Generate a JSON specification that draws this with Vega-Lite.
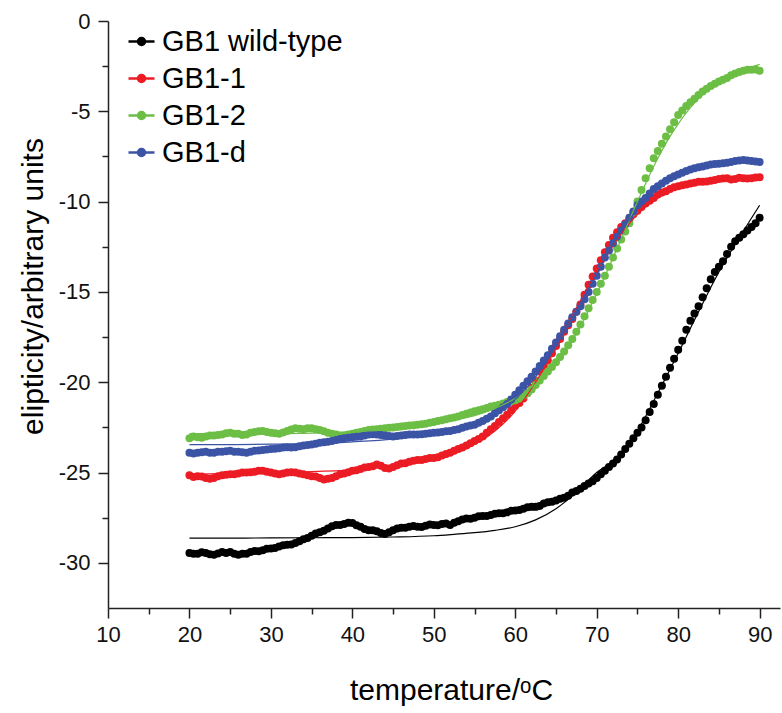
{
  "$schema": "https://vega.github.io/schema/vega-lite/v6.json",
  "width": 672,
  "height": 587,
  "autosize": {"type": "none"},
  "padding": {"left": 108, "top": 21, "right": 2, "bottom": 105},
  "background": "white",
  "config": {"view": {"stroke": null}, "font": "Liberation Sans"},
  "datasets": {
    "points": [
      {"t":20,"wt":-29.45,"g1":-25.15,"g2":-23.1,"gd":-23.9},
      {"t":20.5,"wt":-29.5,"g1":-25.25,"g2":-23.0,"gd":-23.95},
      {"t":21,"wt":-29.5,"g1":-25.2,"g2":-23.05,"gd":-23.9},
      {"t":21.5,"wt":-29.42,"g1":-25.22,"g2":-23.08,"gd":-23.88},
      {"t":22,"wt":-29.45,"g1":-25.3,"g2":-23.0,"gd":-23.85},
      {"t":22.5,"wt":-29.52,"g1":-25.35,"g2":-22.95,"gd":-23.9},
      {"t":23,"wt":-29.55,"g1":-25.3,"g2":-22.95,"gd":-23.9},
      {"t":23.5,"wt":-29.48,"g1":-25.2,"g2":-22.92,"gd":-23.85},
      {"t":24,"wt":-29.4,"g1":-25.15,"g2":-22.9,"gd":-23.85},
      {"t":24.5,"wt":-29.45,"g1":-25.12,"g2":-22.82,"gd":-23.82},
      {"t":25,"wt":-29.4,"g1":-25.1,"g2":-22.8,"gd":-23.8},
      {"t":25.5,"wt":-29.5,"g1":-25.1,"g2":-22.85,"gd":-23.85},
      {"t":26,"wt":-29.55,"g1":-25.05,"g2":-22.85,"gd":-23.85},
      {"t":26.5,"wt":-29.5,"g1":-25.0,"g2":-22.92,"gd":-23.88},
      {"t":27,"wt":-29.5,"g1":-25.0,"g2":-22.9,"gd":-23.9},
      {"t":27.5,"wt":-29.4,"g1":-24.98,"g2":-22.8,"gd":-23.85},
      {"t":28,"wt":-29.35,"g1":-24.95,"g2":-22.75,"gd":-23.8},
      {"t":28.5,"wt":-29.36,"g1":-24.9,"g2":-22.72,"gd":-23.78},
      {"t":29,"wt":-29.3,"g1":-24.9,"g2":-22.7,"gd":-23.75},
      {"t":29.5,"wt":-29.22,"g1":-24.95,"g2":-22.75,"gd":-23.72},
      {"t":30,"wt":-29.2,"g1":-25.0,"g2":-22.8,"gd":-23.7},
      {"t":30.5,"wt":-29.18,"g1":-25.05,"g2":-22.82,"gd":-23.68},
      {"t":31,"wt":-29.1,"g1":-25.1,"g2":-22.85,"gd":-23.65},
      {"t":31.5,"wt":-29.02,"g1":-25.05,"g2":-22.78,"gd":-23.62},
      {"t":32,"wt":-29.0,"g1":-25.0,"g2":-22.7,"gd":-23.6},
      {"t":32.5,"wt":-28.98,"g1":-24.98,"g2":-22.62,"gd":-23.62},
      {"t":33,"wt":-28.9,"g1":-25.0,"g2":-22.55,"gd":-23.6},
      {"t":33.5,"wt":-28.8,"g1":-25.05,"g2":-22.58,"gd":-23.55},
      {"t":34,"wt":-28.7,"g1":-25.1,"g2":-22.6,"gd":-23.5},
      {"t":34.5,"wt":-28.62,"g1":-25.15,"g2":-22.55,"gd":-23.48},
      {"t":35,"wt":-28.5,"g1":-25.2,"g2":-22.55,"gd":-23.45},
      {"t":35.5,"wt":-28.38,"g1":-25.22,"g2":-22.6,"gd":-23.4},
      {"t":36,"wt":-28.3,"g1":-25.3,"g2":-22.65,"gd":-23.35},
      {"t":36.5,"wt":-28.22,"g1":-25.38,"g2":-22.72,"gd":-23.32},
      {"t":37,"wt":-28.1,"g1":-25.35,"g2":-22.8,"gd":-23.3},
      {"t":37.5,"wt":-27.98,"g1":-25.3,"g2":-22.85,"gd":-23.25},
      {"t":38,"wt":-27.9,"g1":-25.2,"g2":-22.9,"gd":-23.2},
      {"t":38.5,"wt":-27.9,"g1":-25.1,"g2":-22.95,"gd":-23.15},
      {"t":39,"wt":-27.85,"g1":-25.05,"g2":-22.95,"gd":-23.1},
      {"t":39.5,"wt":-27.78,"g1":-24.98,"g2":-22.9,"gd":-23.08},
      {"t":40,"wt":-27.8,"g1":-24.9,"g2":-22.85,"gd":-23.05},
      {"t":40.5,"wt":-27.92,"g1":-24.88,"g2":-22.8,"gd":-23.02},
      {"t":41,"wt":-28.0,"g1":-24.8,"g2":-22.75,"gd":-23.0},
      {"t":41.5,"wt":-28.12,"g1":-24.72,"g2":-22.7,"gd":-22.95},
      {"t":42,"wt":-28.2,"g1":-24.7,"g2":-22.65,"gd":-22.9},
      {"t":42.5,"wt":-28.2,"g1":-24.65,"g2":-22.62,"gd":-22.88},
      {"t":43,"wt":-28.25,"g1":-24.55,"g2":-22.6,"gd":-22.9},
      {"t":43.5,"wt":-28.35,"g1":-24.62,"g2":-22.58,"gd":-22.92},
      {"t":44,"wt":-28.4,"g1":-24.75,"g2":-22.55,"gd":-22.95},
      {"t":44.5,"wt":-28.3,"g1":-24.78,"g2":-22.52,"gd":-22.98},
      {"t":45,"wt":-28.2,"g1":-24.7,"g2":-22.5,"gd":-23.0},
      {"t":45.5,"wt":-28.1,"g1":-24.6,"g2":-22.48,"gd":-22.98},
      {"t":46,"wt":-28.05,"g1":-24.5,"g2":-22.45,"gd":-22.95},
      {"t":46.5,"wt":-28.05,"g1":-24.48,"g2":-22.42,"gd":-22.92},
      {"t":47,"wt":-28.0,"g1":-24.4,"g2":-22.4,"gd":-22.9},
      {"t":47.5,"wt":-27.96,"g1":-24.35,"g2":-22.38,"gd":-22.9},
      {"t":48,"wt":-28.0,"g1":-24.3,"g2":-22.35,"gd":-22.9},
      {"t":48.5,"wt":-28.02,"g1":-24.3,"g2":-22.32,"gd":-22.88},
      {"t":49,"wt":-27.95,"g1":-24.25,"g2":-22.3,"gd":-22.85},
      {"t":49.5,"wt":-27.88,"g1":-24.2,"g2":-22.25,"gd":-22.82},
      {"t":50,"wt":-27.9,"g1":-24.2,"g2":-22.2,"gd":-22.8},
      {"t":50.5,"wt":-27.92,"g1":-24.15,"g2":-22.15,"gd":-22.78},
      {"t":51,"wt":-27.85,"g1":-24.05,"g2":-22.1,"gd":-22.75},
      {"t":51.5,"wt":-27.82,"g1":-23.98,"g2":-22.05,"gd":-22.72},
      {"t":52,"wt":-27.9,"g1":-23.9,"g2":-22.0,"gd":-22.7},
      {"t":52.5,"wt":-27.78,"g1":-23.8,"g2":-21.95,"gd":-22.65},
      {"t":53,"wt":-27.7,"g1":-23.7,"g2":-21.9,"gd":-22.6},
      {"t":53.5,"wt":-27.6,"g1":-23.62,"g2":-21.82,"gd":-22.52},
      {"t":54,"wt":-27.55,"g1":-23.5,"g2":-21.75,"gd":-22.45},
      {"t":54.5,"wt":-27.56,"g1":-23.38,"g2":-21.68,"gd":-22.4},
      {"t":55,"wt":-27.5,"g1":-23.25,"g2":-21.6,"gd":-22.35},
      {"t":55.5,"wt":-27.42,"g1":-23.15,"g2":-21.55,"gd":-22.25},
      {"t":56,"wt":-27.4,"g1":-23.0,"g2":-21.5,"gd":-22.15},
      {"t":56.5,"wt":-27.4,"g1":-22.8,"g2":-21.42,"gd":-22.02},
      {"t":57,"wt":-27.35,"g1":-22.6,"g2":-21.35,"gd":-21.9},
      {"t":57.5,"wt":-27.28,"g1":-22.42,"g2":-21.3,"gd":-21.72},
      {"t":58,"wt":-27.25,"g1":-22.2,"g2":-21.25,"gd":-21.55},
      {"t":58.5,"wt":-27.25,"g1":-22.0,"g2":-21.18,"gd":-21.38},
      {"t":59,"wt":-27.2,"g1":-21.8,"g2":-21.1,"gd":-21.2},
      {"t":59.5,"wt":-27.12,"g1":-21.55,"g2":-21.05,"gd":-20.95},
      {"t":60,"wt":-27.1,"g1":-21.3,"g2":-21.0,"gd":-20.7},
      {"t":60.5,"wt":-27.08,"g1":-21.15,"g2":-20.9,"gd":-20.45},
      {"t":61,"wt":-27.0,"g1":-20.9,"g2":-20.75,"gd":-20.2},
      {"t":61.5,"wt":-26.92,"g1":-20.6,"g2":-20.6,"gd":-19.95},
      {"t":62,"wt":-26.9,"g1":-20.3,"g2":-20.4,"gd":-19.7},
      {"t":62.5,"wt":-26.9,"g1":-19.9,"g2":-20.15,"gd":-19.4},
      {"t":63,"wt":-26.85,"g1":-19.4,"g2":-19.9,"gd":-19.1},
      {"t":63.5,"wt":-26.72,"g1":-19.1,"g2":-19.65,"gd":-18.8},
      {"t":64,"wt":-26.65,"g1":-18.8,"g2":-19.4,"gd":-18.5},
      {"t":64.5,"wt":-26.62,"g1":-18.4,"g2":-19.15,"gd":-18.15},
      {"t":65,"wt":-26.55,"g1":-18.0,"g2":-18.9,"gd":-17.8},
      {"t":65.5,"wt":-26.45,"g1":-17.6,"g2":-18.6,"gd":-17.45},
      {"t":66,"wt":-26.4,"g1":-17.2,"g2":-18.3,"gd":-17.1},
      {"t":66.5,"wt":-26.28,"g1":-16.85,"g2":-17.95,"gd":-16.75},
      {"t":67,"wt":-26.1,"g1":-16.5,"g2":-17.6,"gd":-16.4},
      {"t":67.5,"wt":-26.02,"g1":-16.1,"g2":-17.2,"gd":-16.1},
      {"t":68,"wt":-25.9,"g1":-15.7,"g2":-16.8,"gd":-15.8},
      {"t":68.5,"wt":-25.75,"g1":-15.15,"g2":-16.35,"gd":-15.4},
      {"t":69,"wt":-25.6,"g1":-14.6,"g2":-15.9,"gd":-15.0},
      {"t":69.5,"wt":-25.48,"g1":-14.15,"g2":-15.45,"gd":-14.55},
      {"t":70,"wt":-25.3,"g1":-13.7,"g2":-15.0,"gd":-14.1},
      {"t":70.5,"wt":-25.1,"g1":-13.25,"g2":-14.55,"gd":-13.6},
      {"t":71,"wt":-24.9,"g1":-12.8,"g2":-14.1,"gd":-13.1},
      {"t":71.5,"wt":-24.7,"g1":-12.4,"g2":-13.6,"gd":-12.7},
      {"t":72,"wt":-24.5,"g1":-12.0,"g2":-13.1,"gd":-12.3},
      {"t":72.5,"wt":-24.28,"g1":-11.7,"g2":-12.6,"gd":-11.95},
      {"t":73,"wt":-24.0,"g1":-11.4,"g2":-12.1,"gd":-11.6},
      {"t":73.5,"wt":-23.7,"g1":-11.2,"g2":-11.65,"gd":-11.25},
      {"t":74,"wt":-23.4,"g1":-11.0,"g2":-11.2,"gd":-10.9},
      {"t":74.5,"wt":-23.1,"g1":-10.7,"g2":-10.6,"gd":-10.55},
      {"t":75,"wt":-22.8,"g1":-10.5,"g2":-10.0,"gd":-10.2},
      {"t":75.5,"wt":-22.5,"g1":-10.3,"g2":-9.35,"gd":-10.0},
      {"t":76,"wt":-22.1,"g1":-10.1,"g2":-8.7,"gd":-9.8},
      {"t":76.5,"wt":-21.65,"g1":-9.95,"g2":-8.15,"gd":-9.55},
      {"t":77,"wt":-21.2,"g1":-9.8,"g2":-7.6,"gd":-9.3},
      {"t":77.5,"wt":-20.7,"g1":-9.6,"g2":-7.2,"gd":-9.15},
      {"t":78,"wt":-20.2,"g1":-9.5,"g2":-6.8,"gd":-9.0},
      {"t":78.5,"wt":-19.7,"g1":-9.42,"g2":-6.4,"gd":-8.85},
      {"t":79,"wt":-19.2,"g1":-9.3,"g2":-6.0,"gd":-8.7},
      {"t":79.5,"wt":-18.7,"g1":-9.2,"g2":-5.6,"gd":-8.6},
      {"t":80,"wt":-18.2,"g1":-9.15,"g2":-5.2,"gd":-8.5},
      {"t":80.5,"wt":-17.7,"g1":-9.1,"g2":-4.95,"gd":-8.4},
      {"t":81,"wt":-17.1,"g1":-9.05,"g2":-4.7,"gd":-8.3},
      {"t":81.5,"wt":-16.6,"g1":-9.0,"g2":-4.5,"gd":-8.22},
      {"t":82,"wt":-16.2,"g1":-8.95,"g2":-4.3,"gd":-8.15},
      {"t":82.5,"wt":-15.8,"g1":-8.9,"g2":-4.1,"gd":-8.1},
      {"t":83,"wt":-15.3,"g1":-8.9,"g2":-3.9,"gd":-8.05},
      {"t":83.5,"wt":-14.8,"g1":-8.88,"g2":-3.75,"gd":-8.0},
      {"t":84,"wt":-14.3,"g1":-8.85,"g2":-3.6,"gd":-7.95},
      {"t":84.5,"wt":-13.9,"g1":-8.8,"g2":-3.48,"gd":-7.92},
      {"t":85,"wt":-13.6,"g1":-8.75,"g2":-3.35,"gd":-7.9},
      {"t":85.5,"wt":-13.3,"g1":-8.72,"g2":-3.25,"gd":-7.88},
      {"t":86,"wt":-12.9,"g1":-8.7,"g2":-3.15,"gd":-7.85},
      {"t":86.5,"wt":-12.5,"g1":-8.78,"g2":-3.0,"gd":-7.8},
      {"t":87,"wt":-12.2,"g1":-8.75,"g2":-2.9,"gd":-7.75},
      {"t":87.5,"wt":-12.0,"g1":-8.68,"g2":-2.82,"gd":-7.72},
      {"t":88,"wt":-11.8,"g1":-8.7,"g2":-2.75,"gd":-7.7},
      {"t":88.5,"wt":-11.6,"g1":-8.72,"g2":-2.7,"gd":-7.72},
      {"t":89,"wt":-11.4,"g1":-8.7,"g2":-2.7,"gd":-7.75},
      {"t":89.5,"wt":-11.2,"g1":-8.66,"g2":-2.68,"gd":-7.78},
      {"t":90,"wt":-10.9,"g1":-8.65,"g2":-2.75,"gd":-7.8}
    ],
    "fits": [
      {"t":20,"wt":-28.63,"g1":-25.1,"g2":-22.85,"gd":-23.45},
      {"t":25,"wt":-28.63,"g1":-25.05,"g2":-22.85,"gd":-23.45},
      {"t":30,"wt":-28.62,"g1":-25.0,"g2":-22.85,"gd":-23.43},
      {"t":35,"wt":-28.61,"g1":-24.95,"g2":-22.82,"gd":-23.4},
      {"t":40,"wt":-28.6,"g1":-24.85,"g2":-22.75,"gd":-23.3},
      {"t":45,"wt":-28.57,"g1":-24.65,"g2":-22.6,"gd":-23.15},
      {"t":50,"wt":-28.5,"g1":-24.25,"g2":-22.3,"gd":-22.85},
      {"t":52.5,"wt":-28.42,"g1":-23.95,"g2":-22.1,"gd":-22.6},
      {"t":55,"wt":-28.33,"g1":-23.45,"g2":-21.85,"gd":-22.3},
      {"t":57.5,"wt":-28.2,"g1":-22.7,"g2":-21.45,"gd":-21.8},
      {"t":60,"wt":-28.0,"g1":-21.6,"g2":-20.9,"gd":-20.95},
      {"t":62.5,"wt":-27.62,"g1":-20.0,"g2":-20.1,"gd":-19.7},
      {"t":65,"wt":-27.0,"g1":-18.1,"g2":-19.0,"gd":-18.0},
      {"t":67.5,"wt":-26.1,"g1":-15.9,"g2":-17.3,"gd":-16.0},
      {"t":70,"wt":-25.0,"g1":-13.9,"g2":-15.1,"gd":-14.0},
      {"t":72.5,"wt":-24.2,"g1":-12.1,"g2":-12.6,"gd":-12.0},
      {"t":75,"wt":-22.7,"g1":-10.7,"g2":-10.0,"gd":-10.4},
      {"t":77.5,"wt":-20.6,"g1":-9.8,"g2":-7.6,"gd":-9.2},
      {"t":80,"wt":-18.4,"g1":-9.25,"g2":-5.7,"gd":-8.5},
      {"t":82.5,"wt":-16.1,"g1":-8.95,"g2":-4.3,"gd":-8.1},
      {"t":85,"wt":-13.9,"g1":-8.8,"g2":-3.4,"gd":-7.9},
      {"t":87.5,"wt":-12.0,"g1":-8.7,"g2":-2.8,"gd":-7.8},
      {"t":90,"wt":-10.2,"g1":-8.65,"g2":-2.4,"gd":-7.75}
    ]
  },
  "layer": [
    {
      "data": {"name": "points"},
      "transform": [{"fold": ["wt", "g1", "g2", "gd"], "as": ["series", "v"]}],
      "mark": {"type": "circle", "size": 64, "opacity": 1},
      "encoding": {
        "x": {
          "field": "t", "type": "quantitative",
          "scale": {"domain": [10, 92.5], "nice": false, "zero": false},
          "axis": {
            "title": "temperature/ᵒC",
            "values": [10, 15, 20, 25, 30, 35, 40, 45, 50, 55, 60, 65, 70, 75, 80, 85, 90],
            "labelExpr": "datum.value % 10 === 0 ? '' + datum.value : ''",
            "tickSize": {"condition": {"test": "datum.value % 10 === 0", "value": 10}, "value": 6},
            "grid": false,
            "domainColor": "#222", "domainWidth": 1.5,
            "tickColor": "#222", "tickWidth": 1.5,
            "labelFontSize": 22, "labelColor": "#111", "labelPadding": 6,
            "labelFlush": false, "labelOverlap": false,
            "titleFontSize": 30, "titleFontWeight": "normal", "titleColor": "#000",
            "titlePadding": 30, "titleX": 343
          }
        },
        "y": {
          "field": "v", "type": "quantitative",
          "scale": {"domain": [-32.5, 0], "nice": false, "zero": false},
          "axis": {
            "title": "elipticity/arbitrary units",
            "values": [-30, -27.5, -25, -22.5, -20, -17.5, -15, -12.5, -10, -7.5, -5, -2.5, 0],
            "labelExpr": "datum.value % 5 === 0 ? '' + datum.value : ''",
            "tickSize": {"condition": {"test": "datum.value % 5 === 0", "value": 10}, "value": 6},
            "grid": false,
            "domainColor": "#222", "domainWidth": 1.5,
            "tickColor": "#222", "tickWidth": 1.5,
            "labelFontSize": 22, "labelColor": "#111", "labelPadding": 8,
            "labelFlush": false, "labelOverlap": false,
            "titleFontSize": 30, "titleFontWeight": "normal", "titleColor": "#000",
            "titlePadding": 10, "titleY": 265
          }
        },
        "color": {
          "field": "series", "type": "nominal",
          "scale": {"domain": ["wt", "g1", "g2", "gd"], "range": ["#000000", "#ec1c24", "#6cbe45", "#3b54a5"]},
          "legend": {
            "orient": "none", "legendX": 19, "legendY": 6, "title": null, "padding": 0,
            "symbolType": "M-1,0L1,0M-0.27,0A0.27,0.27 0 1,0 0.27,0A0.27,0.27 0 1,0 -0.27,0Z",
            "symbolSize": 676, "symbolStrokeWidth": 2.5,
            "labelFontSize": 29, "labelColor": "#000", "labelOffset": 6, "rowPadding": 7, "labelLimit": 0,
            "labelExpr": "{'wt': 'GB1 wild-type', 'g1': 'GB1-1', 'g2': 'GB1-2', 'gd': 'GB1-d'}[datum.value]",
            "encode": {"symbols": {"update": {"stroke": {"scale": "color", "field": "value"}, "strokeWidth": {"value": 2.5}}}}
          }
        },
        "order": {"field": "series", "type": "ordinal", "sort": "ascending"}
      }
    },
    {
      "data": {"name": "fits"},
      "transform": [{"fold": ["wt", "g1", "g2", "gd"], "as": ["series", "v"]}],
      "mark": {"type": "line", "strokeWidth": 1.2, "interpolate": "monotone"},
      "encoding": {
        "x": {"field": "t", "type": "quantitative"},
        "y": {"field": "v", "type": "quantitative"},
        "color": {"field": "series", "type": "nominal", "legend": null}
      }
    }
  ]
}
